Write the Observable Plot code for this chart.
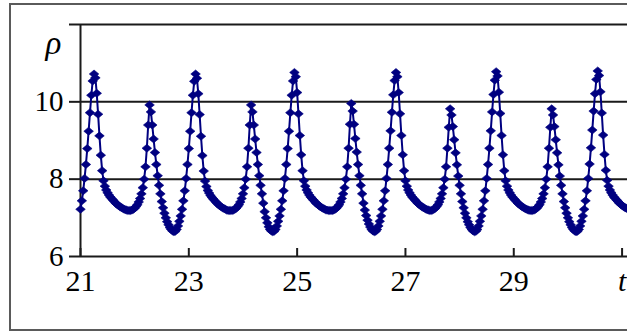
<!DOCTYPE html>
<html><head><meta charset="utf-8">
<script src="https://cdn.jsdelivr.net/npm/d3@7"></script>
<script src="https://cdn.jsdelivr.net/npm/@observablehq/plot@0.6"></script>
<style>
html,body{margin:0;padding:0;background:#fff;}
#wrap{position:relative;width:627px;height:335px;overflow:hidden;background:#fff;}
#wrap svg{position:absolute;left:0;top:0;}
#border{position:absolute;left:9px;top:3px;width:700px;height:328px;box-sizing:border-box;border:2px solid #5a5a5a;pointer-events:none;}
</style></head><body><div id="wrap"><div id="border"></div></div>
<script>
// sampling grid of the series (t)
const tStart = 21;
const tStep = 0.025;

// rho values, one per sample
const rhoPre = [7.22,7.44,7.70,8.02,8.38,8.79,9.24,9.72,10.17,10.54];
const rhoCycle1 = [10.72,10.62,10.22,9.68,9.12,8.62,8.22,7.96,7.82,7.72,7.65,7.59,7.54,7.50,7.46,7.42,7.38,7.35,7.32,7.29,7.27,7.25,7.23,7.21,7.20,7.19,7.19,7.19,7.20,7.22,7.25,7.29,7.34,7.41,7.50,7.62,7.78,8.00,8.32,8.80,9.40,9.92,9.74,9.40,9.04,8.69,8.38,8.09,7.84,7.62,7.42,7.26,7.12,7.00,6.90,6.82,6.75,6.70,6.66,6.64,6.65,6.70,6.79,6.91,7.05,7.22,7.44,7.70,8.02,8.38,8.79,9.24,9.72,10.17,10.53];
const rhoCycle2 = [10.72,10.61,10.21,9.67,9.11,8.61,8.21,7.95,7.81,7.71,7.64,7.58,7.53,7.49,7.45,7.41,7.37,7.34,7.31,7.28,7.26,7.24,7.22,7.20,7.19,7.19,7.19,7.19,7.20,7.22,7.25,7.29,7.34,7.41,7.50,7.62,7.78,8.00,8.32,8.80,9.40,9.92,9.74,9.40,9.04,8.69,8.38,8.09,7.84,7.62,7.38,7.16,7.00,6.87,6.77,6.70,6.66,6.64,6.65,6.70,6.79,6.91,7.05,7.22,7.44,7.70,8.02,8.38,8.79,9.24,9.72,10.17,10.54];
const rhoCycle3 = [10.76,10.65,10.24,9.69,9.13,8.63,8.22,7.96,7.82,7.72,7.65,7.59,7.54,7.50,7.46,7.42,7.38,7.35,7.32,7.29,7.27,7.25,7.23,7.21,7.20,7.19,7.19,7.19,7.19,7.20,7.22,7.25,7.29,7.34,7.41,7.50,7.62,7.78,8.00,8.32,8.80,9.42,9.96,9.76,9.42,9.05,8.70,8.38,8.09,7.84,7.62,7.38,7.20,7.06,6.94,6.84,6.76,6.70,6.66,6.64,6.65,6.70,6.79,6.91,7.05,7.22,7.44,7.70,8.02,8.38,8.80,9.25,9.73,10.18,10.55];
const rhoCycle4 = [10.76,10.65,10.24,9.69,9.13,8.63,8.22,7.96,7.82,7.72,7.65,7.59,7.54,7.50,7.46,7.42,7.38,7.35,7.32,7.29,7.27,7.25,7.23,7.21,7.20,7.19,7.19,7.20,7.22,7.25,7.29,7.34,7.41,7.50,7.62,7.78,8.00,8.32,8.80,9.34,9.82,9.66,9.36,9.02,8.68,8.37,8.08,7.84,7.62,7.42,7.26,7.12,7.00,6.90,6.82,6.75,6.70,6.66,6.64,6.65,6.70,6.79,6.91,7.05,7.22,7.44,7.70,8.02,8.38,8.80,9.25,9.74,10.19,10.56];
const rhoCycle5 = [10.78,10.67,10.25,9.70,9.13,8.63,8.22,7.96,7.82,7.72,7.65,7.59,7.54,7.50,7.46,7.42,7.38,7.35,7.32,7.29,7.27,7.25,7.23,7.21,7.20,7.19,7.19,7.19,7.20,7.22,7.25,7.29,7.34,7.41,7.50,7.62,7.78,8.00,8.32,8.80,9.34,9.82,9.66,9.36,9.02,8.68,8.37,8.08,7.84,7.62,7.42,7.26,7.12,7.00,6.90,6.82,6.75,6.70,6.66,6.64,6.65,6.70,6.79,6.91,7.05,7.22,7.44,7.70,8.02,8.39,8.81,9.27,9.76,10.21,10.58];
const rhoCycle6 = [10.80,10.68,10.26,9.71,9.14,8.64,8.23,7.97,7.82,7.72,7.65,7.59,7.54,7.50,7.46,7.42,7.38,7.35,7.32,7.29,7.27,7.25,7.23];

// axes
const xTicks = [21,23,25,27,29,31];
const xTickLabels = ["21","23","25","27","29","t"];
const yTicks = [6,8,10,12];
const yTickLabels = ["6","8","10",""];
const yLabel = "ρ";

const rho = [].concat(rhoPre, rhoCycle1, rhoCycle2, rhoCycle3, rhoCycle4, rhoCycle5, rhoCycle6);
const data = rho.map((r, i) => ({t: +(tStart + i * tStep).toFixed(3), r}));

const marker = {draw(ctx) {
  const w = 4.8, h = 4.0;
  ctx.moveTo(-w, 0); ctx.lineTo(0, -h); ctx.lineTo(w, 0); ctx.lineTo(0, h); ctx.closePath();
}};
const ink = "#1a1a1a";
const navy = "#000080";
const serif = "'Liberation Serif', 'Times New Roman', 'DejaVu Serif', serif";

const chart = Plot.plot({
  width: 627, height: 335,
  marginLeft: 80, marginRight: 0, marginTop: 24, marginBottom: 79,
  x: {domain: [21, 31.1]},
  y: {domain: [6, 12]},
  style: {fontFamily: serif, background: "transparent", color: "#000"},
  marks: [
    Plot.ruleY(yTicks, {stroke: ink, strokeWidth: 2}),
    Plot.ruleX([xTicks[0]], {stroke: ink, strokeWidth: 2}),
    Plot.axisY({ticks: yTicks, tickFormat: d => yTickLabels[yTicks.indexOf(d)], tickSize: 11, tickPadding: 6, fontSize: 29, stroke: ink, strokeWidth: 2, label: null}),
    Plot.axisX({ticks: xTicks, tickFormat: () => "", tickSize: -8, stroke: ink, strokeWidth: 2, label: null}),
    Plot.axisX({ticks: xTicks, tickFormat: d => xTickLabels[xTicks.indexOf(d)], tickSize: 0, tickPadding: 13, fontSize: 30, label: null}),
    Plot.text([yLabel], {text: d => d, frameAnchor: "top-left", dx: -27, dy: 6, fontSize: 33, fontStyle: "italic", textAnchor: "middle", fill: "#000"}),
    Plot.line(data, {x: "t", y: "r", stroke: navy, strokeWidth: 2}),
    Plot.dot(data, {x: "t", y: "r", symbol: marker, fill: navy, stroke: navy, strokeWidth: 0.6, r: 3})
  ]
});
chart.querySelectorAll("text").forEach(el => { if (el.textContent === "t") el.style.fontStyle = "italic"; });
document.getElementById("wrap").insertBefore(chart, document.getElementById("border"));
</script></body></html>
